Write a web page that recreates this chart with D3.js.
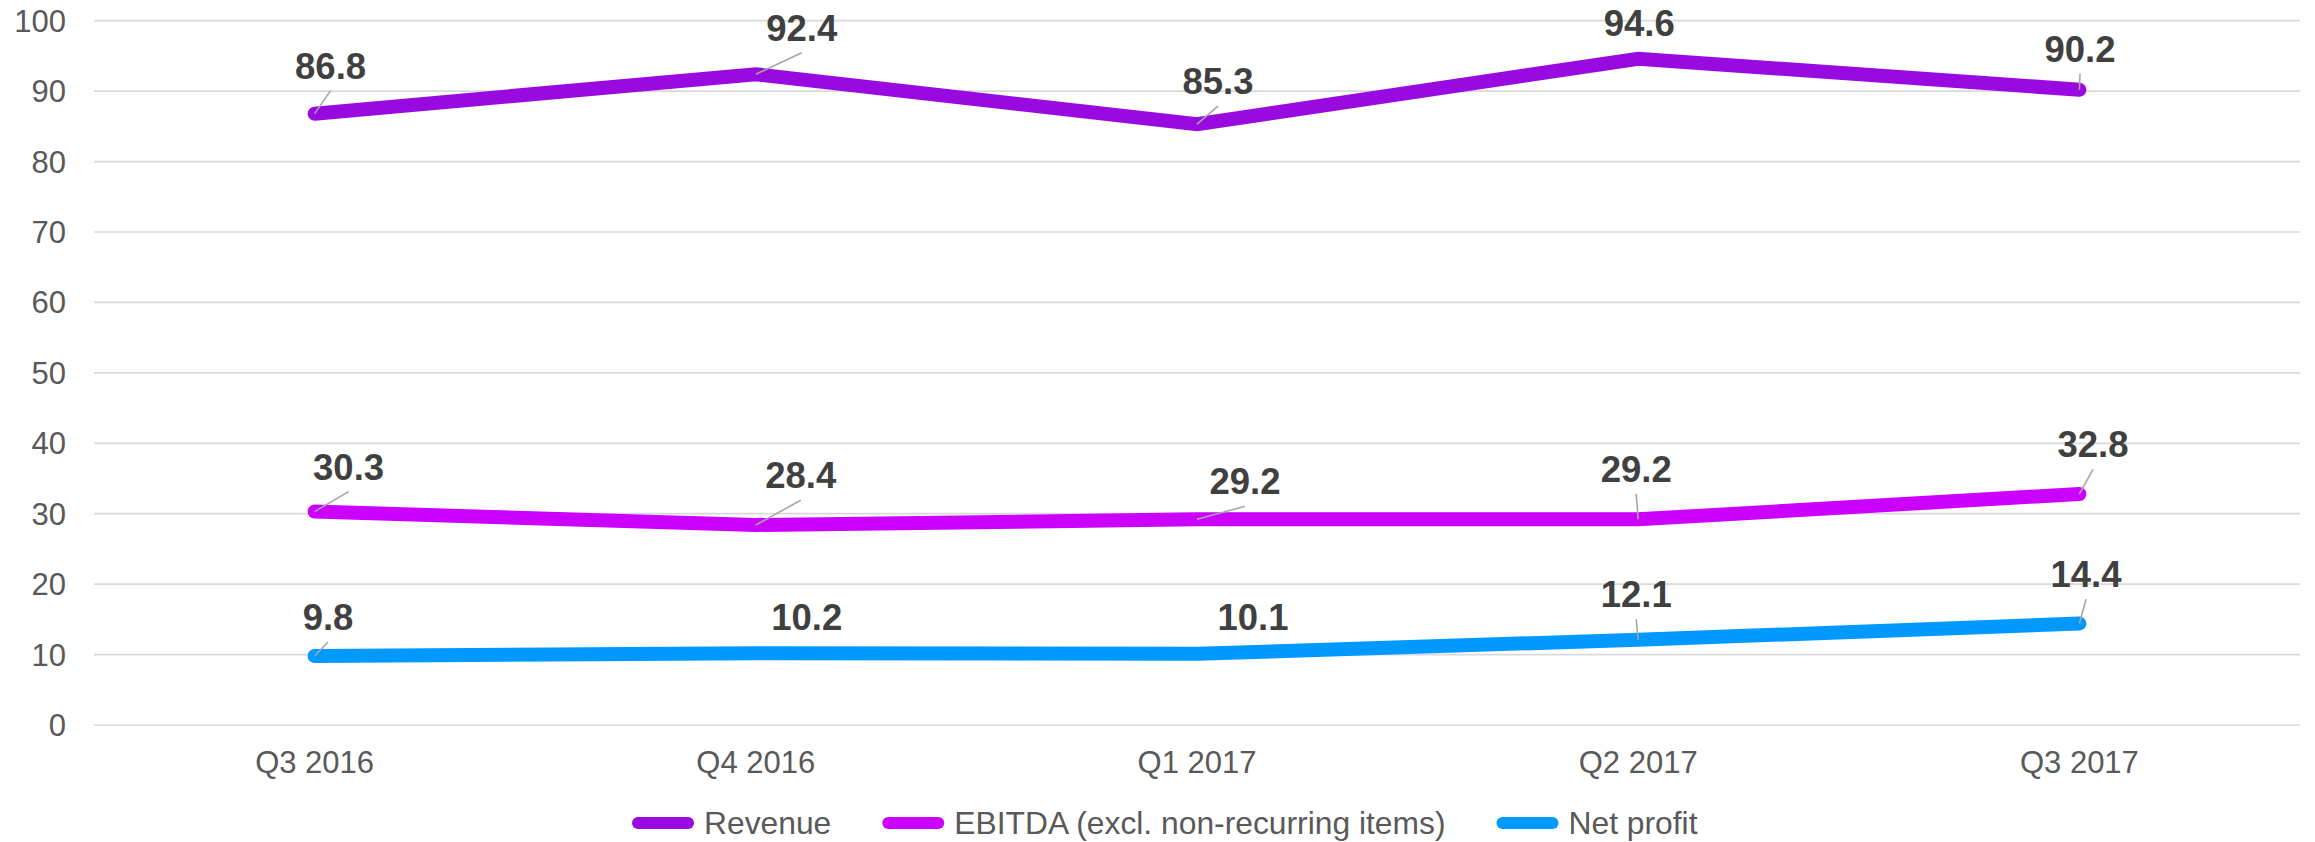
<!DOCTYPE html>
<html lang="en">
<head>
    <meta charset="UTF-8">
    <title>Revenue, EBITDA and Net profit</title>
    <style>
        body {
            margin: 0;
            background: #ffffff;
        }
        svg {
            display: block;
            font-family: "Liberation Sans", Arial, sans-serif;
        }
        .grid line {
            stroke: #d9d9d9;
            stroke-width: 1.7;
        }
        .tick-label {
            fill: #595959;
            font-size: 31px;
        }
        .legend-label {
            fill: #595959;
            font-size: 31.8px;
        }
        .value-label {
            fill: #404040;
            font-size: 36.5px;
            font-weight: bold;
        }
        .leader {
            stroke: #a6a6a6;
            stroke-width: 1.6;
        }
        .series {
            fill: none;
            stroke-width: 14;
            stroke-linecap: round;
            stroke-linejoin: miter;
        }
    </style>
</head>
<body>
    <div id="chart"></div>
    <script src="https://cdn.jsdelivr.net/npm/d3@7"></script>
    <script>
        // chart data
        const quarters = ["Q3 2016", "Q4 2016", "Q1 2017", "Q2 2017", "Q3 2017"];
        const revenue = [86.8, 92.4, 85.3, 94.6, 90.2];
        const ebitda = [30.3, 28.4, 29.2, 29.2, 32.8];
        const netProfit = [9.8, 10.2, 10.1, 12.1, 14.4];
        const seriesNames = ["Revenue", "EBITDA (excl. non-recurring items)", "Net profit"];
        const yTicks = [0, 10, 20, 30, 40, 50, 60, 70, 80, 90, 100];

        const colors = ["#990ae0", "#cc00ff", "#0099ff"];

        // where each value label sits relative to its point: [dx, dy of baseline, leader line?]
        const labelOffsets = [
            [[16, -35, true], [46, -33.5, true], [21, -30, true], [1, -23, false], [0.6, -28, true]],
            [[34, -32, true], [45, -36.7, true], [48, -25, true], [-2, -37.6, true], [13.6, -36.7, true]],
            [[13.4, -26, true], [51, -23.2, false], [56, -24, false], [-2, -32.5, true], [6.6, -36.3, true]]
        ];

        const width = 2315;
        const height = 842;
        const plotLeft = 94, plotRight = 2300, plotTop = 20.7, plotBottom = 725;

        const svg = d3.select("#chart").append("svg")
            .attr("width", width)
            .attr("height", height);

        const xScale = d3.scalePoint()
            .domain(quarters)
            .range([plotLeft, plotRight])
            .padding(0.5);

        const yScale = d3.scaleLinear()
            .domain([0, 100])
            .range([plotBottom, plotTop]);

        // gridlines
        svg.append("g")
            .attr("class", "grid")
            .selectAll("line")
            .data(yTicks)
            .enter()
            .append("line")
            .attr("x1", plotLeft)
            .attr("x2", plotRight)
            .attr("y1", d => yScale(d))
            .attr("y2", d => yScale(d));

        // y axis labels
        svg.append("g")
            .selectAll("text")
            .data(yTicks)
            .enter()
            .append("text")
            .attr("class", "tick-label")
            .attr("x", plotLeft - 28)
            .attr("y", d => yScale(d) + 11)
            .attr("text-anchor", "end")
            .text(d => d);

        // x axis labels
        svg.append("g")
            .selectAll("text")
            .data(quarters)
            .enter()
            .append("text")
            .attr("class", "tick-label")
            .attr("x", d => xScale(d))
            .attr("y", plotBottom + 48)
            .attr("text-anchor", "middle")
            .text(d => d);

        const allSeries = [revenue, ebitda, netProfit];

        const line = d3.line()
            .x((d, i) => xScale(quarters[i]))
            .y(d => yScale(d));

        allSeries.forEach((values, s) => {
            svg.append("path")
                .datum(values)
                .attr("class", "series")
                .attr("stroke", colors[s])
                .attr("d", line);
        });

        // value labels with leader lines
        allSeries.forEach((values, s) => {
            const g = svg.append("g");
            values.forEach((v, i) => {
                const px = xScale(quarters[i]);
                const py = yScale(v);
                const off = labelOffsets[s][i];
                const lx = px + off[0];
                const ly = py + off[1];
                if (off[2]) {
                    g.append("line")
                        .attr("class", "leader")
                        .attr("x1", lx)
                        .attr("y1", ly + 12)
                        .attr("x2", px)
                        .attr("y2", py);
                }
                g.append("text")
                    .attr("class", "value-label")
                    .attr("x", lx)
                    .attr("y", ly)
                    .attr("text-anchor", "middle")
                    .text(v.toFixed(1));
            });
        });

        // legend
        const legend = svg.append("g");
        let lx = 632;
        const legendY = 823;
        seriesNames.forEach((name, s) => {
            legend.append("line")
                .attr("x1", lx + 6)
                .attr("x2", lx + 56)
                .attr("y1", legendY)
                .attr("y2", legendY)
                .attr("stroke", colors[s])
                .attr("stroke-width", 12)
                .attr("stroke-linecap", "round");
            const t = legend.append("text")
                .attr("class", "legend-label")
                .attr("x", lx + 72)
                .attr("y", legendY + 11)
                .text(name);
            lx = lx + 72 + t.node().getComputedTextLength() + 51;
        });
    </script>
</body>
</html>
